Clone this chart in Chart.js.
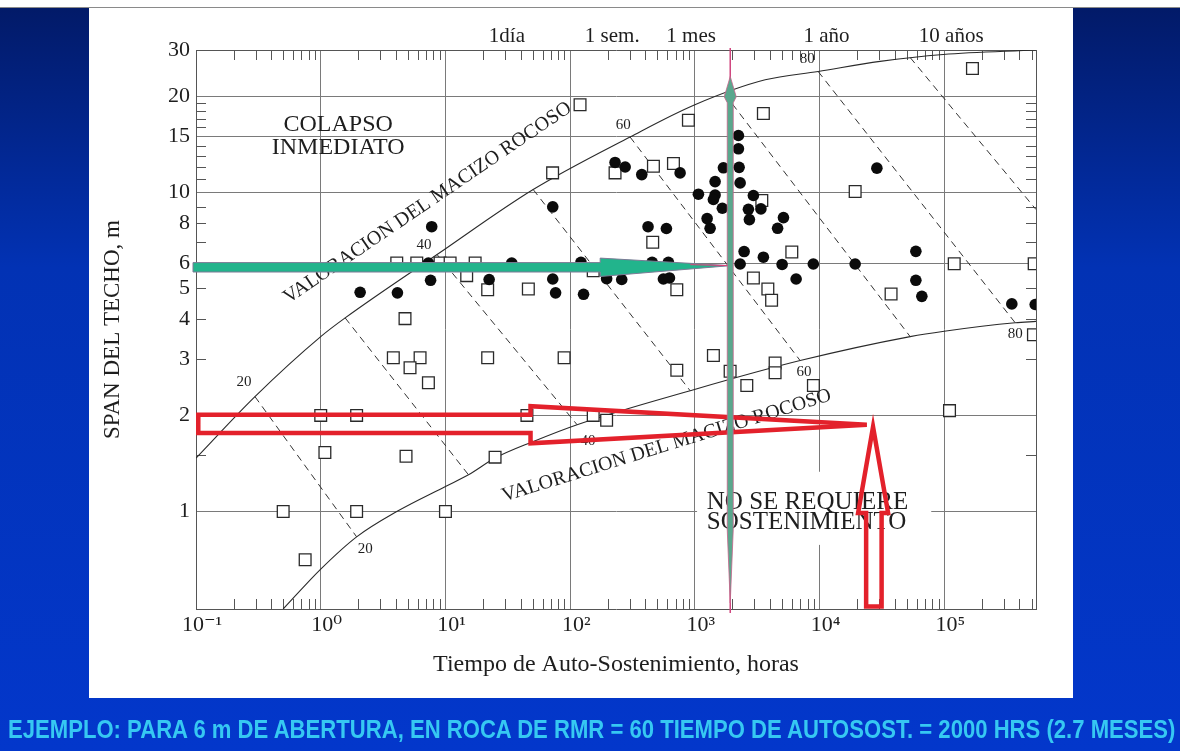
<!DOCTYPE html>
<html>
<head>
<meta charset="utf-8">
<script src="https://cdn.jsdelivr.net/npm/chart.js@4.4.1/dist/chart.umd.min.js"></script>
<style>
html,body{margin:0;padding:0;width:1180px;height:751px;overflow:hidden;background:#0232b4;}
#wrap{position:relative;width:1180px;height:751px;}
#c{position:absolute;left:0;top:0;}
#caption{position:absolute;left:0;top:716px;width:1180px;height:26px;}
#capText{position:absolute;left:8px;top:0;white-space:nowrap;line-height:26px;font-family:"Liberation Sans",Arial,sans-serif;font-weight:bold;font-size:26px;color:#36c8f2;transform-origin:0 50%;}
</style>
</head>
<body>
<div id="wrap">
<canvas id="c" width="1180" height="751"></canvas>
<div id="caption"><span id="capText">EJEMPLO: PARA 6 m DE ABERTURA, EN ROCA DE RMR = 60 TIEMPO DE AUTOSOST. = 2000 HRS (2.7 MESES)</span></div>
</div>
<script>
// ---------------- data ----------------
const xRange = [0.1, 543000];
const yRange = [0.495, 27.9];
const xTickValues = [0.1, 1, 10, 100, 1000, 10000, 100000];
const xTickExponents = ['-1', '0', '1', '2', '3', '4', '5'];
const xMinorMultipliers = [2, 3, 4, 5, 6, 7, 8, 9];
const yTickValues = [1, 2, 3, 4, 5, 6, 8, 10, 15, 20, 27.9];
const yTickLabels = ['1', '2', '3', '4', '5', '6', '8', '10', '15', '20', '30'];
const yGridValues = [1, 2, 6, 10, 15, 20];
const yMinorTicks = [1.5, 3, 4, 5, 7, 8, 9, 11, 12, 13, 14, 16, 17, 18, 19];
const timeTickValues = [24, 168, 720, 8760, 87600];
const timeTickLabels = ['1día', '1 sem.', '1 mes', '1 año', '10 años'];

const xTitle = 'Tiempo de Auto-Sostenimiento, horas';
const yTitle = 'SPAN DEL TECHO, m';

const upperCurveX = [0.1, 0.297, 1, 1.57, 8.57, 50.5, 302, 1000, 3660, 9730, 30500, 97800, 543000];
const upperCurveY = [1.47, 2.29, 3.53, 4.04, 6.38, 10.2, 14.9, 18.8, 22.5, 23.9, 25.7, 27.0, 27.9];
const lowerCurveX = [0.5, 1, 1.94, 4.07, 10, 15.3, 25, 50.7, 113.6, 916, 6980, 53200, 99800, 370000, 543000];
const lowerCurveY = [0.495, 0.66, 0.833, 1.0, 1.198, 1.303, 1.47, 1.657, 1.87, 2.39, 2.97, 3.53, 3.67, 3.90, 3.94];

const rmrLevels = [20, 30, 40, 50, 60, 70, 80, 90];
const rmrStartX = [0.297, 1.57, 8.57, 50.5, 302, 1746, 9730, 53300];
const rmrStartY = [2.29, 4.04, 6.38, 10.2, 14.9, 20.25, 23.9, 26.4];
const rmrEndX = [1.94, 15.3, 113.6, 916, 6980, 53200, 370000, 543000];
const rmrEndY = [0.833, 1.303, 1.87, 2.39, 2.97, 3.53, 3.90, 8.83];

const squareX = [1, 1.94, 45, 153, 196, 1.08, 4.83, 25, 0.5, 1.94, 10, 0.75, 7.3, 4.07, 5.89, 9.05, 10.9, 17.3, 14.8, 21.8, 4.74, 3.82, 6.26, 5.2, 21.8, 46.2, 716, 2944, 3845, 4120, 89.4, 716, 1407, 1916, 2607, 4396, 4396, 8914, 5984, 37400, 120000, 525000, 518000, 110000, 120, 887, 72.3, 229, 465, 673, 459, 153, 3540, 19270, 3439, 168000];
const squareY = [2.0, 2.0, 2.0, 2.0, 1.93, 1.53, 1.49, 1.48, 1.0, 1.0, 1.0, 0.706, 2.53, 6.0, 6.0, 6.0, 6.0, 6.0, 5.48, 4.95, 4.02, 3.03, 3.03, 2.82, 3.03, 4.98, 4.95, 5.39, 4.98, 4.59, 3.03, 2.77, 3.08, 2.75, 2.48, 2.92, 2.72, 2.48, 6.5, 4.8, 5.97, 5.97, 3.58, 2.07, 18.8, 16.8, 11.5, 11.5, 12.07, 12.3, 6.97, 5.68, 17.65, 10.05, 9.42, 24.4];

const circleX = [7.76, 2.07, 4.12, 7.6, 7.3, 22.4, 34, 72.5, 72.5, 76.4, 122, 128, 196, 259, 229, 276, 375, 761, 421, 591, 454, 613, 559, 625, 1067, 1253, 1324, 2233, 2233, 2262, 2305, 1693, 1452, 1452, 1407, 1660, 2944, 3383, 2686, 2735, 5129, 4603, 2481, 3540, 2305, 5003, 8900, 6480, 28770, 19270, 59100, 59100, 66000, 347500, 535000];
const circleY = [7.8, 4.86, 4.84, 5.3, 6.0, 5.33, 6.0, 9.0, 5.35, 4.84, 6.03, 4.79, 5.36, 5.33, 12.4, 12.0, 11.36, 11.5, 7.8, 7.7, 6.03, 6.03, 5.35, 5.39, 9.86, 8.27, 7.71, 15.06, 13.68, 11.97, 10.7, 11.93, 10.8, 9.8, 9.49, 8.91, 9.77, 8.87, 8.84, 8.21, 8.33, 7.71, 6.52, 6.26, 5.96, 5.94, 5.96, 5.35, 11.9, 5.96, 6.53, 5.3, 4.72, 4.47, 4.45];

// ---------------- annotations (anchored in data space) ----------------
const curveLabelText = ['20', '40', '60', '80', '20', '40', '60', '80'];
const curveLabelAt = [[0.243, 2.55], [6.73, 6.85], [266, 16.2], [7940, 26.06], [2.27, 0.764], [139, 1.666], [7510, 2.74], [370000, 3.6]];
const notes = {
  colapso: {at: [1.38, 15], lines: ['COLAPSO', 'INMEDIATO'], size: 24, gap: 23},
  noSe: {at: [1246, 0.99], lines: ['NO SE REQUIERE', 'SOSTENIMIENTO'], size: 25, gap: 20, box: [1041, 78500, 1.332, 0.786]},
  valorUpper: {at: [7.19, 9.26], angle: -34.2, text: 'VALORACION DEL MACIZO ROCOSO', size: 20},
  valorLower: {at: [593, 1.607], angle: -17.2, text: 'VALORACION DEL MACIZO ROCOSO', size: 20}
};
const arrows = {
  greenH: {y: 5.82, headBaseX: 174, tipX: 1920, tipY: 5.89},
  greenV: {x: 1920, tipTop: 23.05, headWide: 19.9, headBase: 19.07, taperStart: 0.877, tipBottom: 0.517},
  redH: {leftX: 0.1043, stepX: 48.1, tipX: 23900, tipY: 1.87, inTop: 2.01, inBot: 1.762, outTop: 2.137, outBot: 1.636},
  redV: {tipX: 26810, tipY: 1.841, headBaseY: 0.99, headL: 20350, headR: 35400, shaftL: 23600, shaftR: 31400, bottomY: 0.504}
};

// ---------------- helpers ----------------
const SERIF = '"Liberation Serif","DejaVu Serif","Times New Roman",serif';
const toPts = (xs, ys) => xs.map((x, i) => ({x: x, y: ys[i]}));
const SUP = {'-': '\u207B', '0': '\u2070', '1': '\u00B9', '2': '\u00B2', '3': '\u00B3', '4': '\u2074', '5': '\u2075'};
const sup = s => s.split('').map(ch => SUP[ch]).join('');

const datasets = [];
datasets.push({label: 'circles', data: toPts(circleX, circleY), pointStyle: 'circle', pointRadius: 5.8,
  pointBackgroundColor: '#0b0b0b', pointBorderColor: '#0b0b0b', pointBorderWidth: 0, showLine: false, order: 0});
datasets.push({label: 'squares', data: toPts(squareX, squareY), pointStyle: 'rect', pointRadius: 8.3,
  pointBackgroundColor: '#ffffff', pointBorderColor: '#2a2a2a', pointBorderWidth: 1.3, showLine: false, order: 1});
datasets.push({label: 'upper', data: toPts(upperCurveX, upperCurveY), showLine: true, borderColor: '#2a2a2a',
  borderWidth: 1.1, pointRadius: 0, cubicInterpolationMode: 'monotone', fill: false, order: 3});
datasets.push({label: 'lower', data: toPts(lowerCurveX, lowerCurveY), showLine: true, borderColor: '#2a2a2a',
  borderWidth: 1.1, pointRadius: 0, cubicInterpolationMode: 'monotone', fill: false, order: 3});
rmrLevels.forEach((lv, i) => {
  datasets.push({label: 'RMR ' + lv, data: [{x: rmrStartX[i], y: rmrStartY[i]}, {x: rmrEndX[i], y: rmrEndY[i]}],
    showLine: true, borderColor: '#333', borderWidth: 1, borderDash: [7, 5], pointRadius: 0, fill: false, order: 3});
});

// ---------------- plugins ----------------
const bgPlugin = {
  id: 'bg',
  beforeDraw(chart) {
    const ctx = chart.ctx;
    ctx.save();
    ctx.fillStyle = '#ffffff';
    ctx.fillRect(0, 0, 1180, 751);
    const g = ctx.createLinearGradient(0, 7, 0, 751);
    g.addColorStop(0, '#021a68');
    g.addColorStop(0.35, '#0232b4');
    g.addColorStop(1, '#0337cb');
    ctx.fillStyle = g;
    ctx.fillRect(0, 7, 1180, 744);
    ctx.fillStyle = '#ffffff';
    ctx.fillRect(89, 7, 984, 691);
    ctx.strokeStyle = '#8a8a8a';
    ctx.lineWidth = 1;
    ctx.beginPath(); ctx.moveTo(0, 7.5); ctx.lineTo(1180, 7.5); ctx.stroke();
    ctx.restore();
  }
};

function drawLines(ctx, lines, x, y, gap, align) {
  const n = lines.length;
  ctx.textAlign = align;
  lines.forEach((t, i) => ctx.fillText(t, x, y + (i - (n - 1) / 2) * gap));
}

const decorPlugin = {
  id: 'decor',
  beforeDatasetsDraw(chart) {
    const {ctx, chartArea: a} = chart;
    const sx = chart.scales.x, sy = chart.scales.y;
    ctx.save();
    // inward minor ticks on four sides
    ctx.strokeStyle = '#555'; ctx.lineWidth = 1;
    ctx.beginPath();
    xTickValues.forEach(d => xMinorMultipliers.forEach(m => {
      const v = d * m;
      if (v >= xRange[1]) return;
      const p = Math.round(sx.getPixelForValue(v)) + 0.5;
      ctx.moveTo(p, a.top); ctx.lineTo(p, a.top + 10);
      ctx.moveTo(p, a.bottom); ctx.lineTo(p, a.bottom - 10);
    }));
    yMinorTicks.forEach(v => {
      const p = Math.round(sy.getPixelForValue(v)) + 0.5;
      ctx.moveTo(a.left, p); ctx.lineTo(a.left + 10, p);
      ctx.moveTo(a.right, p); ctx.lineTo(a.right - 10, p);
    });
    ctx.stroke();

    ctx.fillStyle = '#1e1e1e';
    ctx.textBaseline = 'middle';
    // COLAPSO INMEDIATO
    const c = notes.colapso;
    ctx.font = c.size + 'px ' + SERIF;
    drawLines(ctx, c.lines, sx.getPixelForValue(c.at[0]), sy.getPixelForValue(c.at[1]), c.gap, 'center');
    // NO SE REQUIERE box + text
    const n = notes.noSe;
    const bx0 = sx.getPixelForValue(n.box[0]), bx1 = sx.getPixelForValue(n.box[1]);
    const by0 = sy.getPixelForValue(n.box[2]), by1 = sy.getPixelForValue(n.box[3]);
    ctx.fillStyle = '#ffffff';
    ctx.fillRect(bx0, by0, bx1 - bx0, by1 - by0);
    ctx.fillStyle = '#1e1e1e';
    ctx.font = n.size + 'px ' + SERIF;
    drawLines(ctx, n.lines, sx.getPixelForValue(n.at[0]), sy.getPixelForValue(n.at[1]), n.gap, 'left');
    // VALORACION texts
    [notes.valorUpper, notes.valorLower].forEach(v => {
      ctx.save();
      ctx.translate(sx.getPixelForValue(v.at[0]), sy.getPixelForValue(v.at[1]));
      ctx.rotate(v.angle * Math.PI / 180);
      ctx.font = v.size + 'px ' + SERIF;
      ctx.textAlign = 'center';
      ctx.fillText(v.text, 0, 0);
      ctx.restore();
    });
    // RMR curve labels
    ctx.font = '15px ' + SERIF;
    ctx.textAlign = 'center';
    curveLabelText.forEach((t, i) => {
      ctx.fillText(t, sx.getPixelForValue(curveLabelAt[i][0]), sy.getPixelForValue(curveLabelAt[i][1]));
    });
    ctx.restore();
  }
};

const arrowPlugin = {
  id: 'arrows',
  afterDatasetsDraw(chart) {
    const {ctx, chartArea: a} = chart;
    const sx = chart.scales.x, sy = chart.scales.y;
    const X = v => sx.getPixelForValue(v), Y = v => sy.getPixelForValue(v);
    ctx.save();
    // red horizontal arrow (outline)
    const r = arrows.redH;
    ctx.strokeStyle = '#e3212b'; ctx.lineWidth = 4.5; ctx.lineJoin = 'miter';
    ctx.beginPath();
    ctx.moveTo(X(r.leftX), Y(r.inTop));
    ctx.lineTo(X(r.stepX), Y(r.inTop));
    ctx.lineTo(X(r.stepX), Y(r.outTop));
    ctx.lineTo(X(r.tipX), Y(r.tipY));
    ctx.lineTo(X(r.stepX), Y(r.outBot));
    ctx.lineTo(X(r.stepX), Y(r.inBot));
    ctx.lineTo(X(r.leftX), Y(r.inBot));
    ctx.closePath();
    ctx.stroke();
    // red vertical arrow (outline)
    const u = arrows.redV;
    ctx.beginPath();
    ctx.moveTo(X(u.shaftL), Y(u.bottomY));
    ctx.lineTo(X(u.shaftL), Y(u.headBaseY));
    ctx.lineTo(X(u.headL), Y(u.headBaseY));
    ctx.lineTo(X(u.tipX), Y(u.tipY));
    ctx.lineTo(X(u.headR), Y(u.headBaseY));
    ctx.lineTo(X(u.shaftR), Y(u.headBaseY));
    ctx.lineTo(X(u.shaftR), Y(u.bottomY));
    ctx.closePath();
    ctx.stroke();

    // green horizontal arrow
    const g = arrows.greenH;
    const yc = Y(g.y), xb = X(g.headBaseX), xt = X(g.tipX), yt = Y(g.tipY), x0 = a.left - 3;
    ctx.beginPath();
    ctx.moveTo(x0, yc - 4.7);
    ctx.lineTo(xb, yc - 4.7);
    ctx.lineTo(xb, yc - 9.2);
    ctx.lineTo(xt, yt);
    ctx.lineTo(xb, yc + 9.2);
    ctx.lineTo(xb, yc + 4.7);
    ctx.lineTo(x0, yc + 4.7);
    ctx.closePath();
    ctx.fillStyle = '#22b48c';
    ctx.fill();
    ctx.strokeStyle = '#7d7b96'; ctx.lineWidth = 1;
    ctx.stroke();
    ctx.strokeStyle = '#e0407a'; ctx.lineWidth = 1;
    ctx.beginPath(); ctx.moveTo(xt - 40, yt - 1); ctx.lineTo(xt, yt); ctx.stroke();

    // green vertical double arrow
    const v = arrows.greenV;
    const xv = X(v.x);
    ctx.strokeStyle = '#d0457e'; ctx.lineWidth = 1.5;
    ctx.beginPath(); ctx.moveTo(xv, a.top - 2); ctx.lineTo(xv, a.bottom + 4); ctx.stroke();
    ctx.beginPath();
    ctx.moveTo(xv, Y(v.tipTop));
    ctx.lineTo(xv + 6, Y(v.headWide));
    ctx.lineTo(xv + 3, Y(v.headBase));
    ctx.lineTo(xv + 3, Y(v.taperStart));
    ctx.lineTo(xv, Y(v.tipBottom));
    ctx.lineTo(xv - 3, Y(v.taperStart));
    ctx.lineTo(xv - 3, Y(v.headBase));
    ctx.lineTo(xv - 6, Y(v.headWide));
    ctx.closePath();
    ctx.fillStyle = '#5aa78d';
    ctx.fill();
    ctx.strokeStyle = '#c8628a'; ctx.lineWidth = 0.8;
    ctx.stroke();
    ctx.restore();
  }
};

// ---------------- chart ----------------
const axisColor = '#555';
const gridColor = '#7a7a7a';
new Chart(document.getElementById('c'), {
  type: 'scatter',
  data: {datasets: datasets},
  options: {
    responsive: false,
    animation: false,
    devicePixelRatio: 1,
    layout: {padding: {left: 90, right: 144, top: 0, bottom: 0}},
    plugins: {legend: {display: false}, tooltip: {enabled: false}},
    scales: {
      x: {
        type: 'logarithmic', position: 'bottom', min: xRange[0], max: xRange[1],
        afterBuildTicks: s => { s.ticks = xTickValues.map(v => ({value: v})); },
        afterFit: s => { s.height = 142; },
        ticks: {
          callback: (v, i) => '10' + sup(xTickExponents[i]),
          autoSkip: false, maxRotation: 0, padding: 3, labelOffset: 6,
          color: '#1e1e1e', font: {family: SERIF, size: 22}
        },
        grid: {color: gridColor, lineWidth: 1, drawTicks: false},
        border: {display: true, color: axisColor, width: 1},
        title: {display: true, text: xTitle, color: '#1e1e1e', font: {family: SERIF, size: 24},
          padding: {top: 0, bottom: 71.6}}
      },
      xTop: {
        type: 'logarithmic', position: 'top', min: xRange[0], max: xRange[1],
        afterBuildTicks: s => { s.ticks = timeTickValues.map(v => ({value: v})); },
        afterFit: s => { s.height = 50; },
        ticks: {
          callback: (v, i) => timeTickLabels[i],
          autoSkip: false, maxRotation: 0, padding: 1, labelOffset: 14,
          color: '#1e1e1e', font: {family: SERIF, size: 21}
        },
        grid: {display: false, drawTicks: false},
        border: {display: true, color: axisColor, width: 1}
      },
      y: {
        type: 'logarithmic', position: 'left', min: yRange[0], max: yRange[1],
        afterBuildTicks: s => { s.ticks = yTickValues.map(v => ({value: v})); },
        afterFit: s => { s.width = 106; },
        ticks: {
          callback: (v, i) => yTickLabels[i],
          autoSkip: false, padding: 6,
          color: '#1e1e1e', font: {family: SERIF, size: 22}
        },
        grid: {
          drawTicks: false, lineWidth: 1,
          color: c => (c.tick && yGridValues.includes(c.tick.value)) ? gridColor : 'rgba(0,0,0,0)'
        },
        border: {display: true, color: axisColor, width: 1},
        title: {display: true, text: yTitle, color: '#1e1e1e', font: {family: SERIF, size: 23},
          padding: {top: 8.7, bottom: 0}}
      },
      yRight: {
        type: 'logarithmic', position: 'right', min: yRange[0], max: yRange[1],
        afterFit: s => { s.width = 0; },
        ticks: {display: false},
        grid: {display: false, drawTicks: false},
        border: {display: true, color: axisColor, width: 1}
      }
    }
  },
  plugins: [bgPlugin, decorPlugin, arrowPlugin]
});

// fit caption to its measured span in the reference (x 8 .. 1175)
(function () {
  const cap = document.getElementById('capText');
  const w = cap.offsetWidth;
  cap.style.transform = 'scaleX(' + (1167 / w) + ')';
})();
</script>
</body>
</html>
